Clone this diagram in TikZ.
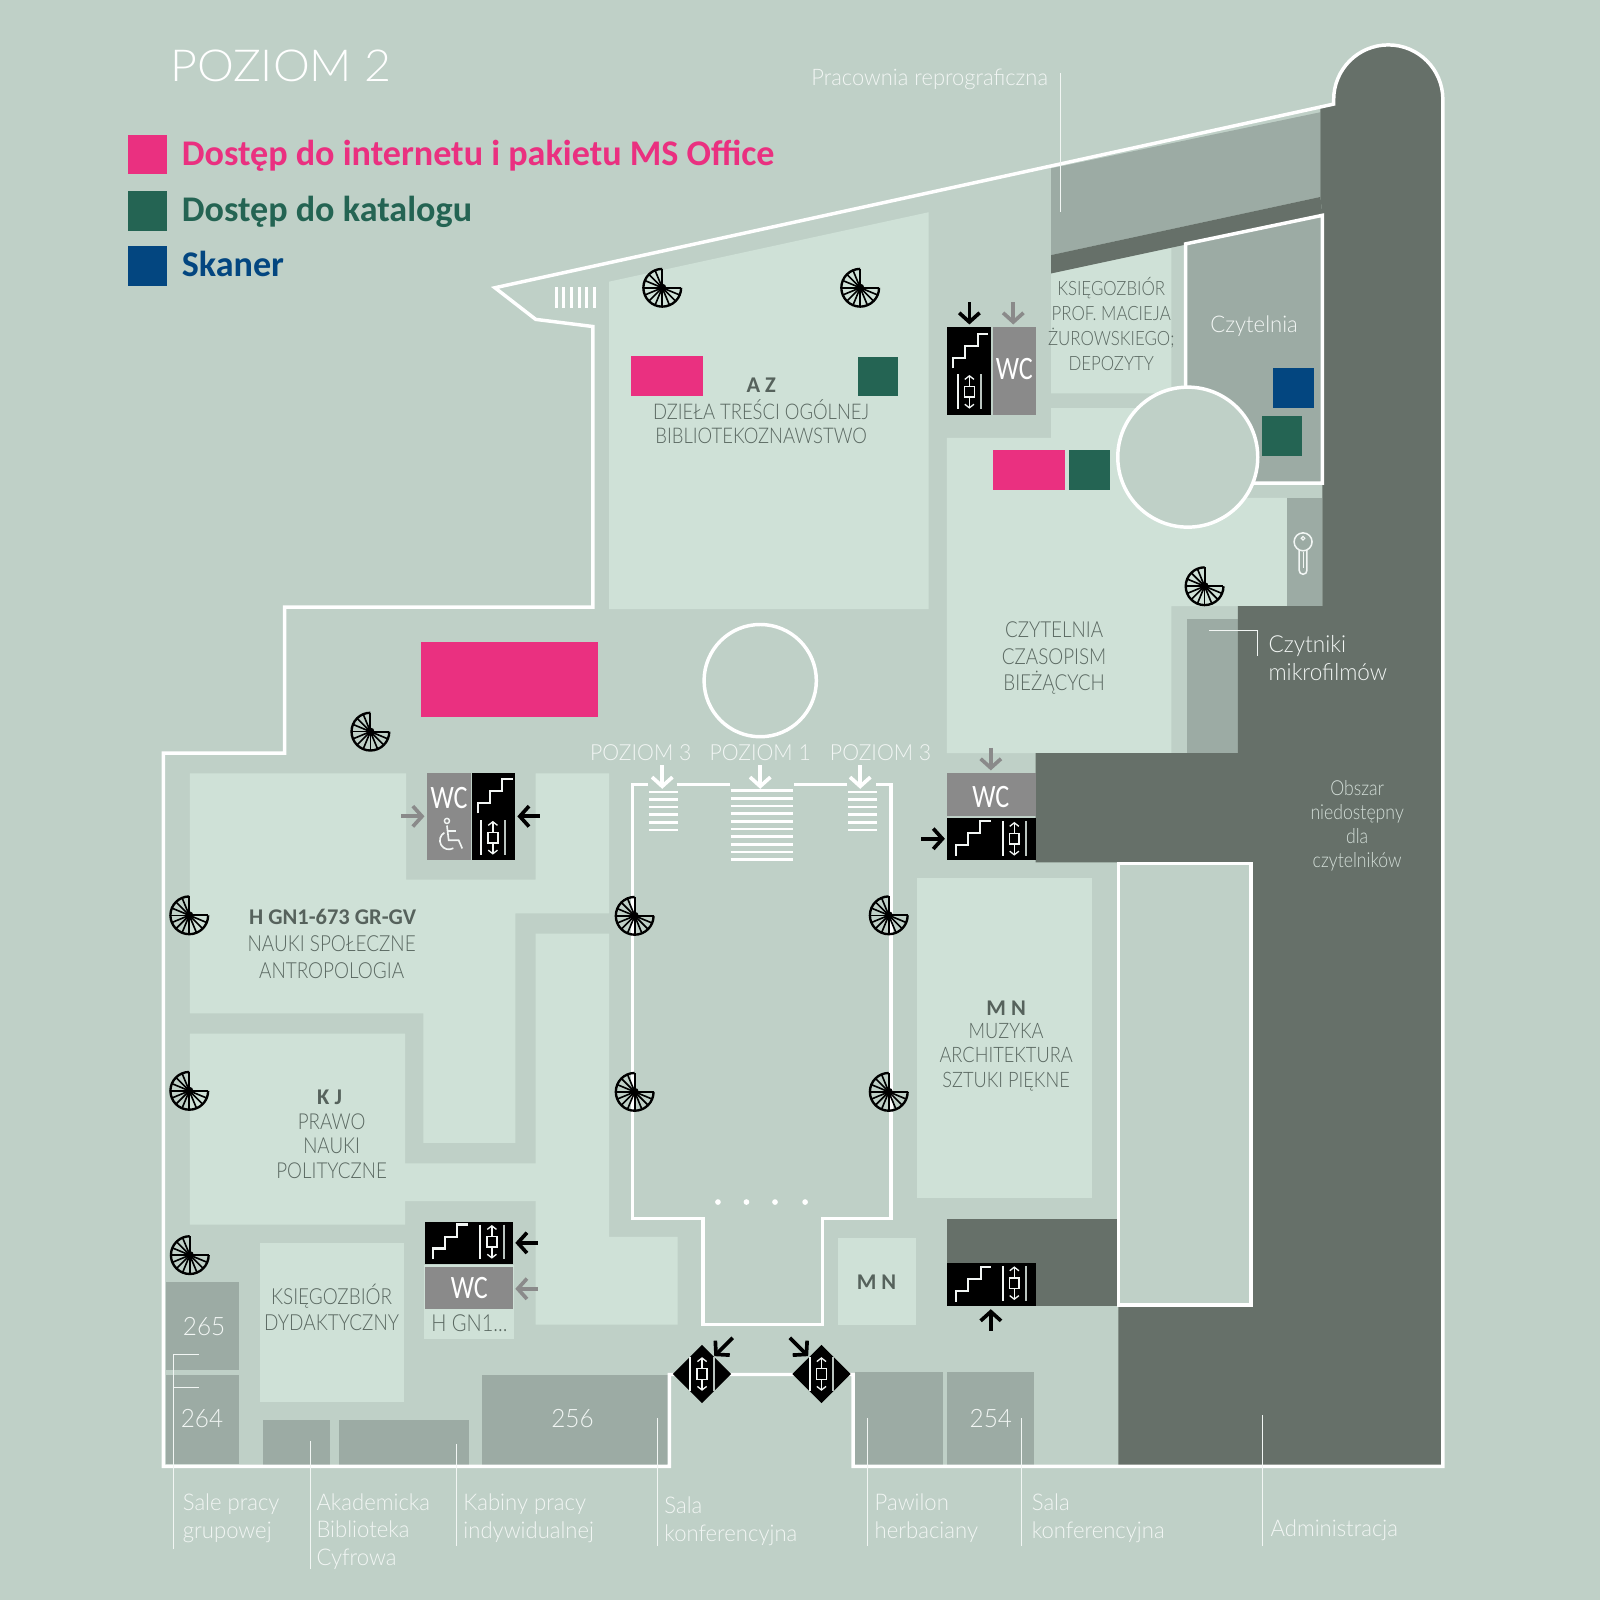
\documentclass[tikz,border=0pt]{standalone}
\usepackage{fontspec}
\setmainfont{Carlito}
\newfontfamily\labf[Scale=0.92,FakeStretch=0.855]{Lato Light}
\newfontfamily\capf[Scale=0.92,FakeStretch=0.96]{Lato Light}
\newfontfamily\titf[Scale=0.92,FakeStretch=1.055]{Lato Light}
\newfontfamily\wcf[FakeStretch=0.8]{Carlito}
\usetikzlibrary{arrows.meta}
\definecolor{bgc}{HTML}{BFD0C7}
\definecolor{lightc}{HTML}{CFE1D7}
\definecolor{midc}{HTML}{9CABA4}
\definecolor{darkc}{HTML}{667069}
\definecolor{pinkc}{HTML}{EA3080}
\definecolor{greenc}{HTML}{246453}
\definecolor{bluec}{HTML}{034680}
\definecolor{wcc}{HTML}{8A8A8A}
\definecolor{labelc}{HTML}{5A6861}
\definecolor{boldc}{HTML}{56625C}
\definecolor{whitish}{HTML}{F2F6F4}
\definecolor{dimwhite}{HTML}{D3DED8}
\tikzset{
  x=1pt,y=-1pt,
  wall/.style={draw=white,line width=3.4pt,line join=miter},
  lead/.style={draw=whitish,line width=1.1pt},
  lightroom/.style={fill=lightc},
  midroom/.style={fill=midc},
  darkroom/.style={fill=darkc},
  blackbox/.style={fill=black},
  wcbox/.style={fill=wcc},
  pointer/.style={-{Straight Barb[length=9pt,width=20pt,line width=3.6pt]},line width=3.6pt},
  blackptr/.style={pointer,draw=black},
  grayptr/.style={pointer,draw=wcc},
  whiteptr/.style={pointer,draw=white},
  roomlabel/.style={text=labelc,align=center,inner sep=0pt},
  whitelabel/.style={text=whitish,align=left,anchor=west,inner sep=0pt},
  wclabel/.style={text=white,inner sep=0pt,font=\wcf\fontsize{32}{32}\selectfont},
  pics/spiralicon/.style={code={
    \draw[black,line width=2.3pt] (18.5,0) arc[start angle=0,end angle=270,radius=18.5];
    \draw[black,line width=2pt] (18.5,0) -- (0,0) -- (0,-18.5);
    \foreach \a in {22.5,45,...,247.5}{\draw[black,line width=1.6pt] (0,0) -- (\a:18.5);}
    \fill[black] (0,0) circle[radius=4];
  }},
  pics/stairicon/.style={code={
    \draw[whitish,line width=2pt] (-17,17) -- (-17,6.5) -- (-5,6.5) -- (-5,-5) -- (7,-5) -- (7,-17) -- (17.5,-17);
  }},
  pics/lifticon/.style={code={
    \draw[whitish,line width=1.9pt] (-11.5,-17) -- (-11.5,17);
    \draw[midc!70!white,line width=1.9pt] (11.5,-17) -- (11.5,17);
    \draw[whitish,line width=1.5pt] (-4.8,-5.2) rectangle (4.8,5.2);
    \draw[whitish,line width=1.3pt,-{Straight Barb[length=3.5pt,width=9pt]}] (0,-5) -- (0,-16.5);
    \draw[whitish,line width=1.3pt,-{Straight Barb[length=3.5pt,width=9pt]}] (0,5) -- (0,16.5);
  }},
  pics/wheelicon/.style={code={
    \draw[whitish,line width=1.4pt] (-5,-12.5) circle[radius=2.5];
    \draw[whitish,line width=1.6pt] (-5,-8) -- (-3.3,6.5) -- (6.5,6.5) -- (10,14.5);
    \draw[whitish,line width=1.4pt] (-4.5,-2.5) -- (4,-2.5);
    \draw[whitish,line width=1.6pt] (-7.5,-1) arc[start angle=240,end angle=60,radius=8.8];
  }},
  pics/keyicon/.style={code={
    \draw[whitish,line width=1.5pt,fill=midc] (-3.8,8) -- (-3.8,28) arc[start angle=180,end angle=0,radius=3.8] -- (3.8,8);
    \draw[whitish,line width=1.5pt,fill=midc] (0,0) circle[radius=8.8];
    \draw[whitish,line width=1.1pt] (0,-3.5) circle[radius=1.8];
    \draw[whitish,line width=1pt] (0,10) -- (0,26);
  }},
}
\newcommand{\fsz}[1]{\fontsize{#1}{#1}\selectfont}
\newcommand{\fszb}[2]{\fontsize{#1}{#2}\selectfont}
\begin{document}
\begin{tikzpicture}
\useasboundingbox (0,0) rectangle (1568,1568);
\fill[bgc] (0,0) rectangle (1568,1568);

% light rooms
\fill[lightroom] (597,276) -- (910,208) -- (910,597) -- (597,597) -- cycle;
\fill[lightroom] (928,429) -- (1030,429) -- (1030,400) -- (1164,400) -- (1164,488) -- (1261,488) -- (1261,594) -- (1148,594) -- (1148,738) -- (928,738) -- cycle;
\fill[lightroom] (1030,268) -- (1148,242) -- (1148,385.5) -- (1030,385.5) -- cycle;
\fill[lightroom] (186,758) -- (398,758) -- (398,862) -- (525,862) -- (525,758) -- (597,758) -- (597,895) -- (505,895) -- (505,1120) -- (415,1120) -- (415,993) -- (186,993) -- cycle;
\fill[lightroom] (525,915) -- (597,915) -- (597,1212) -- (664,1212) -- (664,1298) -- (525,1298) -- cycle;
\fill[lightroom] (186,1013) -- (397,1013) -- (397,1140) -- (530,1140) -- (530,1177) -- (397,1177) -- (397,1200) -- (186,1200) -- cycle;
\fill[lightroom] (255,1218) rectangle (395.5,1374);
\fill[lightroom] (416,1240) rectangle (504,1312);
\fill[lightroom] (899,860) rectangle (1070,1174);
\fill[lightroom] (821,1213) rectangle (898,1298);

% mid rooms
\fill[midroom] (1030,165) -- (1294,110) -- (1294,193) -- (1030,250) -- cycle;
\fill[midroom] (1162,240) -- (1296,211) -- (1296,473.5) -- (1162,473.5) -- cycle;
\fill[midroom] (1261,488) rectangle (1296,594);
\fill[midroom] (1163,607) rectangle (1213,738);
\fill[midroom] (163,1256) rectangle (234,1343);
\fill[midroom] (163,1347) rectangle (234,1435);
\fill[midroom] (258,1392) rectangle (323,1437);
\fill[midroom] (332,1392) rectangle (460,1437);
\fill[midroom] (472,1347) rectangle (655,1437);
\fill[midroom] (838,1345) rectangle (924,1437);
\fill[midroom] (928,1345) rectangle (1013,1437);

% dark areas
\fill[darkroom] (1030,250) -- (1294,193) -- (1296,211) -- (1030,268) -- cycle;
\fill[darkroom] (1294,105) -- (1307,102) -- (1307,97.5) arc[start angle=180,end angle=360,radius=53.5] -- (1414,1437) -- (1096,1437) -- (1096,845) -- (1015,845) -- (1015,738) -- (1213,738) -- (1213,594) -- (1296,594) -- (1296,211) -- (1294,193) -- cycle;
\fill[darkroom] (928,1195) rectangle (1096,1280);
\fill[bgc,wall] (1096,846) rectangle (1226,1279);

% walls
\draw[wall] (160,1437) -- (160,738) -- (279,738) -- (279,595) -- (581,595) -- (581,320) -- (525,313) -- (485,282) -- (1307,102) -- (1307,97.5) arc[start angle=180,end angle=360,radius=53.5] -- (1414,1437) -- (836,1437) -- (836,1347) -- (656,1347) -- (656,1437) -- cycle;
\draw[wall] (1162,385) -- (1162,239) -- (1296,211) -- (1296,473.5) -- (1225,473.5);
\draw[wall,fill=bgc] (1164,448) circle[radius=68.6];
\draw[wall] (745,667) circle[radius=55];
\draw[wall] (635,769) -- (620,769) -- (620,1194) -- (689,1194) -- (689,1298) -- (806,1298) -- (806,1194) -- (873,1194) -- (873,769) -- (858,769);
\draw[wall] (663,769) -- (715,769);
\draw[wall] (778,769) -- (830,769);

% stairs hatching
\foreach \y in {776,783.5,791,798.5,806,813.5}{
  \draw[draw=white,line width=2.6pt] (636,\y) -- (664,\y);
  \draw[draw=white,line width=2.6pt] (831,\y) -- (859,\y);
}
\foreach \y in {775,782.5,...,845}{\draw[draw=white,line width=2.6pt] (716,\y) -- (777,\y);}
\foreach \x in {545,552.5,560,567.5,575,582.5}{\draw[draw=white,line width=3pt] (\x,281.5) -- (\x,302);}
\foreach \x in {703.6,731.5,759.5,789}{\fill[white] (\x,1178) circle[radius=2.8];}

% coloured markers
\fill[pinkc] (618,349) rectangle (689,388);
\fill[greenc] (841,350) rectangle (880,388);
\fill[pinkc] (973,441) rectangle (1044,480);
\fill[greenc] (1048,441) rectangle (1088,480);
\fill[bluec] (1248,361) rectangle (1288,400);
\fill[greenc] (1237,408) rectangle (1276,447);
\fill[pinkc] (413,629) rectangle (586,703);
\fill[pinkc] (125,132) rectangle (164,171);
\fill[greenc] (125,187) rectangle (164,226);
\fill[bluec] (125,241) rectangle (164,280);

% WC / stair boxes
\fill[blackbox] (928,320) rectangle (971,407);
\fill[wcbox] (973,320) rectangle (1015,407);
\node[wclabel] (wc1) at (994,362) {WC};
\pic at (951,344) {stairicon};
\pic at (950,384) {lifticon};
\fill[wcbox] (418.5,757.5) rectangle (461.5,843);
\fill[blackbox] (463,757.5) rectangle (505,843);
\node[wclabel] (wc2) at (440,782) {WC};
\pic at (443,817) {wheelicon};
\pic at (485,780) {stairicon};
\pic at (483,821) {lifticon};
\fill[blackbox] (416.5,1197.5) rectangle (503,1239);
\fill[wcbox] (416.5,1242) rectangle (503,1283);
\node[wclabel] (wc3) at (460,1262) {WC};
\pic at (441,1217) {stairicon};
\pic at (482,1217) {lifticon};
\fill[wcbox] (928,757.5) rectangle (1015,800);
\fill[blackbox] (928,802) rectangle (1015,843);
\node[wclabel] (wc4) at (971,781) {WC};
\pic at (953.5,821.5) {stairicon};
\pic at (994,822) {lifticon};
\fill[blackbox] (928,1238) rectangle (1015,1280);
\pic at (954,1258.5) {stairicon};
\pic at (994,1257.5) {lifticon};
\fill[black] (688,1318) -- (716.5,1346.5) -- (688,1375) -- (659.5,1346.5) -- cycle;
\pic at (688,1346.5) {lifticon};
\fill[black] (805,1318) -- (833.5,1346.5) -- (805,1375) -- (776.5,1346.5) -- cycle;
\pic at (805,1346.5) {lifticon};

% arrows
\draw[blackptr] (950,296) -- (950,318);
\draw[grayptr] (993,296) -- (993,318);
\draw[grayptr] (393,800) -- (416,800);
\draw[blackptr] (529,800) -- (507,800);
\draw[blackptr] (527,1218) -- (505,1218);
\draw[grayptr] (527,1263) -- (505,1263);
\draw[grayptr] (971,733) -- (971,755);
\draw[blackptr] (903,822) -- (926,822);
\draw[blackptr] (971,1304) -- (971,1283);
\draw[blackptr] (718,1311) -- (700,1329);
\draw[blackptr] (774,1311) -- (792,1329);
\draw[whiteptr] (649,750) -- (649,773);
\draw[whiteptr] (745,750) -- (745,773);
\draw[whiteptr] (843,750) -- (843,773);

% spirals
\foreach \p in {(649,282),(843,282),(1180.5,574.5),(363,717),(185.5,897),(622,897.5),(871,897),(185.5,1069),(622,1070),(871,1070),(186,1230)}{
  \pic at \p {spiralicon};
}
\pic at (1277,531) {keyicon};

% leader lines
\draw[lead] (1039,72) -- (1039,208);
\draw[lead] (1185,618) -- (1232,618) -- (1232,643);
\draw[lead] (195,1327) -- (170,1327) -- (170,1518);
\draw[lead] (170,1360) -- (195,1360);
\draw[lead] (304,1412) -- (304,1538);
\draw[lead] (447,1415) -- (447,1515);
\draw[lead] (644,1390) -- (644,1515);
\draw[lead] (850,1390) -- (850,1515);
\draw[lead] (1001,1390) -- (1001,1515);
\draw[lead] (1237,1387) -- (1237,1515);

% titles and legend
\node[text=white,anchor=west,inner sep=0pt,font=\titf\fsz{47}] (title) at (166.5,65) {POZIOM 2};
\node[text=pinkc,anchor=base west,inner sep=0pt,font=\fsz{35.4}\bfseries] (leg1) at (178,161.7) {Dostęp do internetu i pakietu MS Office};
\node[text=greenc,anchor=base west,inner sep=0pt,font=\fsz{35.4}\bfseries] (leg2) at (178,217.5) {Dostęp do katalogu};
\node[text=bluec,anchor=base west,inner sep=0pt,font=\fsz{35.4}\bfseries] (leg3) at (178,270.5) {Skaner};

% room labels
\node[roomlabel,font=\fsz{22}\bfseries,text=boldc] (az) at (746,378) {A Z};
\node[roomlabel,font=\labf\fszb{23}{23.5}] (azt) at (746,413) {DZIEŁA TREŚCI OGÓLNEJ\\BIBLIOTEKOZNAWSTWO};
\node[roomlabel,font=\labf\fszb{21}{24.5}] (ks1) at (1089,318) {KSIĘGOZBIÓR\\PROF. MACIEJA\\ŻUROWSKIEGO;\\DEPOZYTY};
\node[text=whitish,inner sep=0pt,font=\capf\fsz{24.5}] (cz) at (1229,320) {Czytelnia};
\node[roomlabel,font=\labf\fszb{23.5}{26}] (czc) at (1033,645) {CZYTELNIA\\CZASOPISM\\BIEŻĄCYCH};
\node[roomlabel,font=\fsz{22}\bfseries,text=boldc] (hgn) at (326,899) {H GN1-673 GR-GV};
\node[roomlabel,font=\labf\fszb{23.6}{26}] (hgnt) at (325,938) {NAUKI SPOŁECZNE\\ANTROPOLOGIA};
\node[roomlabel,font=\fsz{22}\bfseries,text=boldc] (kj) at (323,1075) {K J};
\node[roomlabel,font=\labf\fszb{23.4}{24}] (kjt) at (325,1123) {PRAWO\\NAUKI\\POLITYCZNE};
\node[roomlabel,font=\labf\fszb{23.6}{26}] (ksd) at (325,1281) {KSIĘGOZBIÓR\\DYDAKTYCZNY};
\node[roomlabel,font=\labf\fsz{25}] (hg2) at (460,1297) {H GN1...};
\node[roomlabel,font=\fsz{22}\bfseries,text=boldc] (mn) at (986,988) {M N};
\node[roomlabel,font=\labf\fszb{22.7}{24}] (mnt) at (986,1036) {MUZYKA\\ARCHITEKTURA\\SZTUKI PIĘKNE};
\node[roomlabel,font=\fsz{22}\bfseries,text=boldc] (mn2) at (859,1257) {M N};
\node[text=whitish,inner sep=0pt,font=\capf\fsz{27}] (r265) at (200,1300) {265};
\node[text=whitish,inner sep=0pt,font=\capf\fsz{27}] (r264) at (198,1390) {264};
\node[text=whitish,inner sep=0pt,font=\capf\fsz{27}] (r256) at (561,1390) {256};
\node[text=whitish,inner sep=0pt,font=\capf\fsz{27}] (r254) at (971,1390) {254};

% white captions
\node[text=whitish,inner sep=0pt,anchor=west,font=\capf\fsz{24.3}] (pr) at (795,78) {Pracownia reprograficzna};
\node[text=whitish,inner sep=0pt,font=\capf\fsz{23.6}] (p1) at (628,738) {POZIOM 3};
\node[text=whitish,inner sep=0pt,font=\capf\fsz{23.6}] (p2) at (745,738) {POZIOM 1};
\node[text=whitish,inner sep=0pt,font=\capf\fsz{23.6}] (p3) at (863,738) {POZIOM 3};
\node[whitelabel,font=\capf\fszb{25}{28}] (mik) at (1243,645) {Czytniki\\mikrofilmów};
\node[text=dimwhite,align=center,inner sep=0pt,font=\labf\fszb{22}{23.5}] (ob) at (1330,809) {Obszar\\niedostępny\\dla\\czytelników};
\node[whitelabel,font=\capf\fszb{24.5}{27}] (c1) at (179,1488) {Sale pracy\\grupowej};
\node[whitelabel,font=\capf\fszb{24.5}{27}] (c2) at (310,1501) {Akademicka\\Biblioteka\\Cyfrowa};
\node[whitelabel,font=\capf\fszb{24.5}{27}] (c3) at (454,1488) {Kabiny pracy\\indywidualnej};
\node[whitelabel,font=\capf\fszb{24.5}{27}] (c4) at (651,1491) {Sala\\konferencyjna};
\node[whitelabel,font=\capf\fszb{24.5}{27}] (c5) at (857,1488) {Pawilon\\herbaciany};
\node[whitelabel,font=\capf\fszb{24.5}{27}] (c6) at (1011,1488) {Sala\\konferencyjna};
\node[whitelabel,font=\capf\fsz{24.5}] (c7) at (1245,1500) {Administracja};
\end{tikzpicture}
\end{document}
